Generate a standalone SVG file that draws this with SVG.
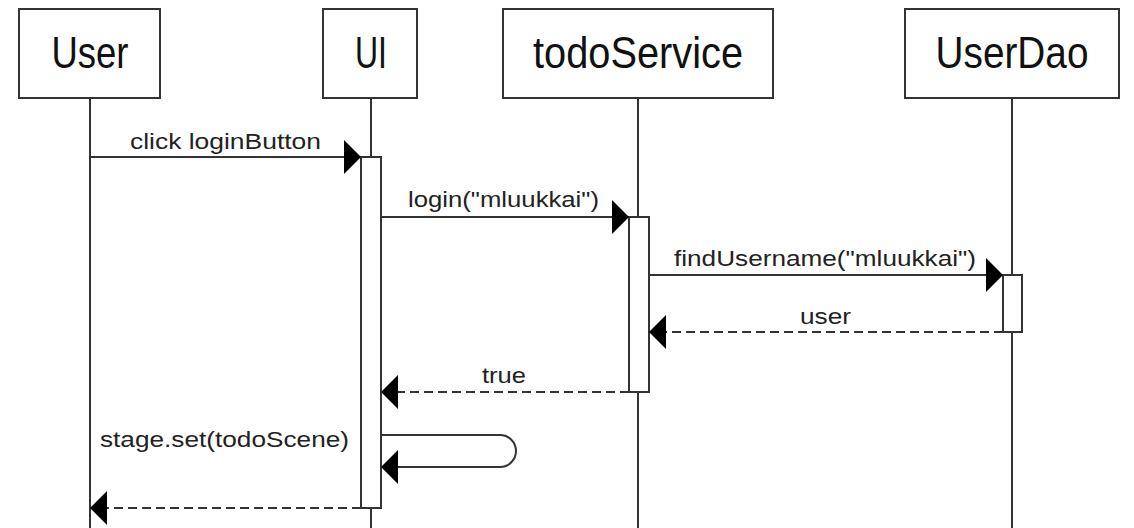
<svg xmlns="http://www.w3.org/2000/svg" width="1134" height="528" viewBox="0 0 1134 528">
<style>
.box{fill:#fff;stroke:#333;stroke-width:2}
.life{stroke:#333;stroke-width:2;fill:none}
.act{fill:#fff;stroke:#333;stroke-width:2}
.msg{stroke:#333;stroke-width:2;fill:none;marker-end:url(#ah)}
.ret{stroke:#333;stroke-width:2;fill:none;stroke-dasharray:9 5;marker-end:url(#ah)}
.hdr{font-family:"Liberation Sans",Arial,sans-serif;font-size:44px;fill:#111;text-anchor:middle}
.lbl{font-family:"Liberation Sans",Arial,sans-serif;font-size:22px;fill:#222;text-anchor:middle}
</style>
<defs>
<marker id="ah" viewBox="0 0 17 34" refX="17" refY="17" markerWidth="17" markerHeight="34" markerUnits="userSpaceOnUse" orient="auto">
<path d="M0,0 L17,17 L0,34 Z" fill="#000"/>
</marker>
</defs>
<rect width="1134" height="528" fill="#fff"/>
<g id="lifelines">
<line class="life" x1="90" y1="98" x2="90" y2="528"/>
<line class="life" x1="371" y1="98" x2="371" y2="528"/>
<line class="life" x1="638" y1="98" x2="638" y2="528"/>
<line class="life" x1="1012" y1="98" x2="1012" y2="528"/>
</g>
<g id="node-user">
<rect class="box" x="19" y="9" width="141" height="89"/>
<text class="hdr" x="90" y="68" textLength="77" lengthAdjust="spacingAndGlyphs">User</text>
</g>
<g id="node-ui">
<rect class="box" x="323" y="9" width="94" height="89"/>
<text class="hdr" x="371" y="68" textLength="32" lengthAdjust="spacingAndGlyphs">UI</text>
</g>
<g id="node-todoservice">
<rect class="box" x="503" y="9" width="270" height="89"/>
<text class="hdr" x="638" y="68" textLength="210" lengthAdjust="spacingAndGlyphs">todoService</text>
</g>
<g id="node-userdao">
<rect class="box" x="905" y="9" width="214" height="89"/>
<text class="hdr" x="1012" y="68" textLength="153" lengthAdjust="spacingAndGlyphs">UserDao</text>
</g>
<g id="activations">
<rect class="act" x="361" y="157" width="20" height="351"/>
<rect class="act" x="629" y="217" width="20" height="175"/>
<rect class="act" x="1003" y="275" width="19" height="57"/>
</g>
<g id="connectors">
<path class="msg" d="M90,157 H361"/>
<path class="msg" d="M381,217 H629"/>
<path class="msg" d="M649,275 H1003"/>
<path class="ret" d="M1003,332 H649"/>
<path class="ret" d="M629,392 H381"/>
<path class="msg" d="M381,435 H500 A16,16 0 0 1 500,467 H381"/>
<path class="ret" d="M361,508 H90"/>
</g>
<g id="labels">
<text class="lbl" x="225.5" y="149" textLength="191" lengthAdjust="spacingAndGlyphs">click loginButton</text>
<text class="lbl" x="503.5" y="207" textLength="191" lengthAdjust="spacingAndGlyphs">login("mluukkai")</text>
<text class="lbl" x="825" y="266" textLength="302" lengthAdjust="spacingAndGlyphs">findUsername("mluukkai")</text>
<text class="lbl" x="825.5" y="324" textLength="51" lengthAdjust="spacingAndGlyphs">user</text>
<text class="lbl" x="504" y="383" textLength="44" lengthAdjust="spacingAndGlyphs">true</text>
<text class="lbl" x="224.5" y="447" textLength="249" lengthAdjust="spacingAndGlyphs">stage.set(todoScene)</text>
</g>
</svg>
